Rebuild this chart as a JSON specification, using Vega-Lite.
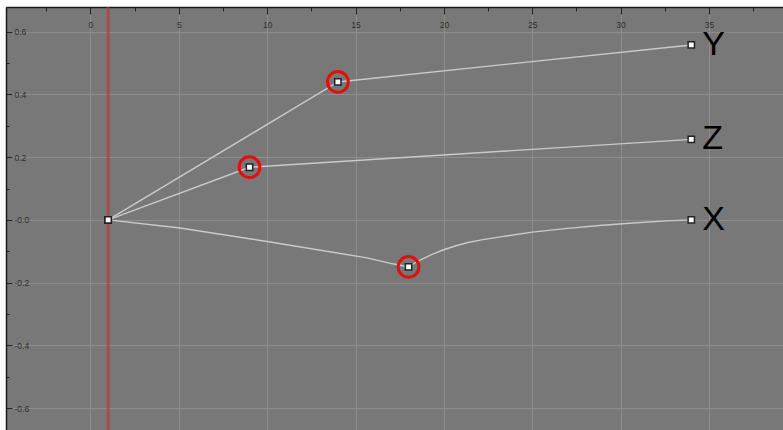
{
  "$schema": "https://vega.github.io/schema/vega-lite/v6.json",
  "width": 777,
  "height": 423,
  "autosize": {"type": "none"},
  "padding": {"top": 7, "left": 6, "right": 0, "bottom": 0},
  "background": "white",
  "config": {"view": {"fill": "#787878", "stroke": null}},
  "datasets": {
    "curves": [
      {"series": "X", "frame": 1, "value": 0, "key": true, "selected": false},
      {"series": "X", "frame": 5.07, "value": -0.026, "key": false, "selected": false},
      {"series": "X", "frame": 10, "value": -0.069, "key": false, "selected": false},
      {"series": "X", "frame": 15.65, "value": -0.121, "key": false, "selected": false},
      {"series": "X", "frame": 17.1, "value": -0.14, "key": false, "selected": false},
      {"series": "X", "frame": 18, "value": -0.15, "key": true, "selected": true},
      {"series": "X", "frame": 18.3, "value": -0.139, "key": false, "selected": false},
      {"series": "X", "frame": 18.65, "value": -0.128, "key": false, "selected": false},
      {"series": "X", "frame": 19.3, "value": -0.111, "key": false, "selected": false},
      {"series": "X", "frame": 19.95, "value": -0.096, "key": false, "selected": false},
      {"series": "X", "frame": 20.6, "value": -0.084, "key": false, "selected": false},
      {"series": "X", "frame": 21.3, "value": -0.073, "key": false, "selected": false},
      {"series": "X", "frame": 22.2, "value": -0.063, "key": false, "selected": false},
      {"series": "X", "frame": 23.2, "value": -0.054, "key": false, "selected": false},
      {"series": "X", "frame": 25.0, "value": -0.039, "key": false, "selected": false},
      {"series": "X", "frame": 27.0, "value": -0.027, "key": false, "selected": false},
      {"series": "X", "frame": 28.8, "value": -0.018, "key": false, "selected": false},
      {"series": "X", "frame": 30.7, "value": -0.01, "key": false, "selected": false},
      {"series": "X", "frame": 32.6, "value": -0.003, "key": false, "selected": false},
      {"series": "X", "frame": 34, "value": 0, "key": true, "selected": false},
      {"series": "Y", "frame": 1, "value": 0, "key": true, "selected": false},
      {"series": "Y", "frame": 14, "value": 0.44, "key": true, "selected": true},
      {"series": "Y", "frame": 34, "value": 0.558, "key": true, "selected": false},
      {"series": "Z", "frame": 1, "value": 0, "key": true, "selected": false},
      {"series": "Z", "frame": 9, "value": 0.168, "key": true, "selected": true},
      {"series": "Z", "frame": 34, "value": 0.257, "key": true, "selected": false}
    ],
    "labels": [
      {"series": "Y", "frame": 34, "value": 0.558},
      {"series": "Z", "frame": 34, "value": 0.257},
      {"series": "X", "frame": 34, "value": 0}
    ],
    "time": [{"frame": 1}]
  },
  "encoding": {
    "x": {
      "field": "frame",
      "type": "quantitative",
      "scale": {"domain": [-4.78, 39.19], "nice": false, "zero": false},
      "axis": {
        "orient": "top",
        "title": null,
        "values": [-2.5, 0, 2.5, 5, 7.5, 10, 12.5, 15, 17.5, 20, 22.5, 25, 27.5, 30, 32.5, 35, 37.5],
        "domainColor": "#1a1a1a",
        "domainWidth": 1.5,
        "tickColor": "#222222",
        "tickWidth": 1,
        "tickSize": {"condition": {"test": "datum.value % 5 != 0", "value": -4}, "value": -7},
        "grid": true,
        "gridColor": "#8e8e8e",
        "gridWidth": 1,
        "gridOpacity": {"condition": {"test": "datum.value % 5 != 0", "value": 0}, "value": 1},
        "labelExpr": "datum.value % 5 != 0 ? '' : datum.label",
        "labelFont": "Liberation Sans",
        "labelFontSize": 8.5,
        "labelColor": "#2e2e2e",
        "labelBaseline": "middle",
        "labelPadding": -10,
        "labelFlush": false,
        "labelOverlap": false,
        "labelBound": false
      }
    },
    "y": {
      "field": "value",
      "type": "quantitative",
      "scale": {"domain": [-0.67, 0.679], "nice": false, "zero": false},
      "axis": {
        "orient": "left",
        "title": null,
        "values": [-0.6, -0.5, -0.4, -0.3, -0.2, -0.1, 0, 0.1, 0.2, 0.3, 0.4, 0.5, 0.6],
        "domainColor": "#1a1a1a",
        "domainWidth": 1.5,
        "tickColor": "#222222",
        "tickWidth": 1,
        "tickSize": {"condition": {"test": "round(datum.value*10) % 2 != 0", "value": -3}, "value": -6},
        "grid": true,
        "gridColor": "#8e8e8e",
        "gridWidth": 1,
        "gridOpacity": {"condition": {"test": "round(datum.value*10) % 2 != 0", "value": 0}, "value": 1},
        "labelExpr": "round(datum.value*10) % 2 != 0 ? '' : (round(datum.value*10) == 0 ? '-0.0' : replace(format(datum.value, '.1f'), '\u2212', '-'))",
        "labelFont": "Liberation Sans",
        "labelFontSize": 8.5,
        "labelColor": "#2e2e2e",
        "labelAlign": "left",
        "labelBaseline": "middle",
        "labelPadding": -2,
        "labelFlush": false,
        "labelOverlap": false,
        "labelBound": false
      }
    }
  },
  "layer": [
    {
      "data": {"name": "time"},
      "mark": {"type": "rule", "color": "#d42a2a", "opacity": 0.6, "strokeWidth": 3},
      "encoding": {"x": {"field": "frame", "type": "quantitative"}, "y": null}
    },
    {
      "data": {"name": "time"},
      "mark": {"type": "rule", "color": "#ff1010", "strokeWidth": 5, "strokeCap": "round"},
      "encoding": {
        "x": {"field": "frame", "type": "quantitative"},
        "y": {"datum": 0.685, "type": "quantitative"},
        "y2": {"datum": 0.64}
      }
    },
    {
      "data": {"name": "curves"},
      "mark": {"type": "line", "color": "#cacaca", "strokeWidth": 1.4, "interpolate": "linear"},
      "encoding": {
        "detail": {"field": "series", "type": "nominal"},
        "order": {"field": "frame", "type": "quantitative"}
      }
    },
    {
      "data": {"name": "curves"},
      "transform": [{"filter": "datum.selected"}],
      "mark": {"type": "point", "shape": "circle", "size": 430, "filled": false, "stroke": "#e01010", "strokeWidth": 3, "opacity": 1}
    },
    {
      "data": {"name": "curves"},
      "transform": [{"filter": "datum.key"}],
      "mark": {"type": "square", "size": 40, "fill": "#ffffff", "stroke": "#222222", "strokeWidth": 1.5, "opacity": 1}
    },
    {
      "data": {"name": "labels"},
      "mark": {"type": "text", "align": "left", "baseline": "middle", "dx": 11, "dy": 0, "font": "Liberation Sans", "fontSize": 34, "color": "#000000"},
      "encoding": {"text": {"field": "series", "type": "nominal"}}
    }
  ]
}
